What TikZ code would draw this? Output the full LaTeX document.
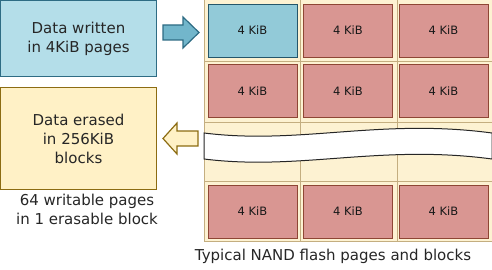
\documentclass[tikz,border=0pt]{standalone}
\usepackage{fontspec}
\setmainfont{DejaVu Sans}
\definecolor{bluefill}{HTML}{B4DEE9}
\definecolor{blueline}{HTML}{2E6C84}
\definecolor{arrowblue}{HTML}{72B6CB}
\definecolor{cellblue}{HTML}{92CAD8}
\definecolor{cellred}{HTML}{D99692}
\definecolor{redline}{HTML}{8E4634}
\definecolor{yellowfill}{HTML}{FFF1C6}
\definecolor{yellowline}{HTML}{8C6C12}
\definecolor{gridfill}{HTML}{FDF2D2}
\definecolor{gridline}{HTML}{C4AE80}
\begin{document}
\begin{tikzpicture}[x=1pt,y=-1pt,
  bigtext/.style={font=\fontsize{15}{19}\selectfont, align=center, text=black!85},
  cell/.style={draw=redline, fill=cellred, line width=0.8pt, minimum width=89pt, minimum height=53pt, inner sep=0pt, font=\fontsize{11.5}{13}\selectfont, text=black!90},
  bluecell/.style={cell, fill=cellblue, draw=blueline!80!black}
]
\useasboundingbox (0,0) rectangle (492,270);
% left boxes
\node[draw=blueline, fill=bluefill, line width=1.2pt, minimum width=156pt, minimum height=76pt, inner sep=0pt, bigtext] (write) at (78.5,38.5) {Data written\\in 4KiB pages};
\node[draw=yellowline, fill=yellowfill, line width=1.2pt, minimum width=156pt, minimum height=102pt, inner sep=0pt, bigtext] (erase) at (78.5,138.5) {Data erased\\in 256KiB\\blocks};
\node[bigtext, anchor=north] (cap1) at (87,191) {64 writable pages\\in 1 erasable block};
% grid background
\fill[gridfill] (204,0) rectangle (492,241);
\draw[gridline, line width=0.7pt] (204,0) -- (204,241) -- (492,241);
\draw[gridline, line width=0.7pt] (300,0) -- (300,241) (397,0) -- (397,241)
  (204,61) -- (492,61) (204,122) -- (492,122) (204,181) -- (492,181);
% cells
\node[bluecell] (c11) at (252.5,30.5) {4 KiB};
\node[cell] (c12) at (348,30.5) {4 KiB};
\node[cell] (c13) at (443.5,30.5) {4 KiB};
\node[cell] (c21) at (252.5,91) {4 KiB};
\node[cell] (c22) at (348,91) {4 KiB};
\node[cell] (c23) at (443.5,91) {4 KiB};
\node[cell] (c41) at (252.5,211.5) {4 KiB};
\node[cell] (c42) at (348,211.5) {4 KiB};
\node[cell] (c43) at (443.5,211.5) {4 KiB};
% wavy break band
\draw[fill=white, draw=black!85, line width=1pt] (204,133) .. controls (300,145) and (380,118) .. (492,133)
  -- (492,159) .. controls (380,144) and (300,171) .. (204,159) -- cycle;
% arrows
\draw[fill=arrowblue, draw=blueline, line width=1.2pt, line join=miter]
  (163,25) -- (183,25) -- (183,17) -- (199,32.5) -- (183,48) -- (183,40) -- (163,40) -- cycle;
\draw[fill=yellowfill, draw=yellowline, line width=1.2pt, line join=miter]
  (198,131) -- (177,131) -- (177,123) -- (163,138.5) -- (177,154) -- (177,146) -- (198,146) -- cycle;
\node[font=\fontsize{15}{17}\selectfont, text=black!85] (cap2) at (333,256) {Typical NAND flash pages and blocks};
\end{tikzpicture}
\end{document}
